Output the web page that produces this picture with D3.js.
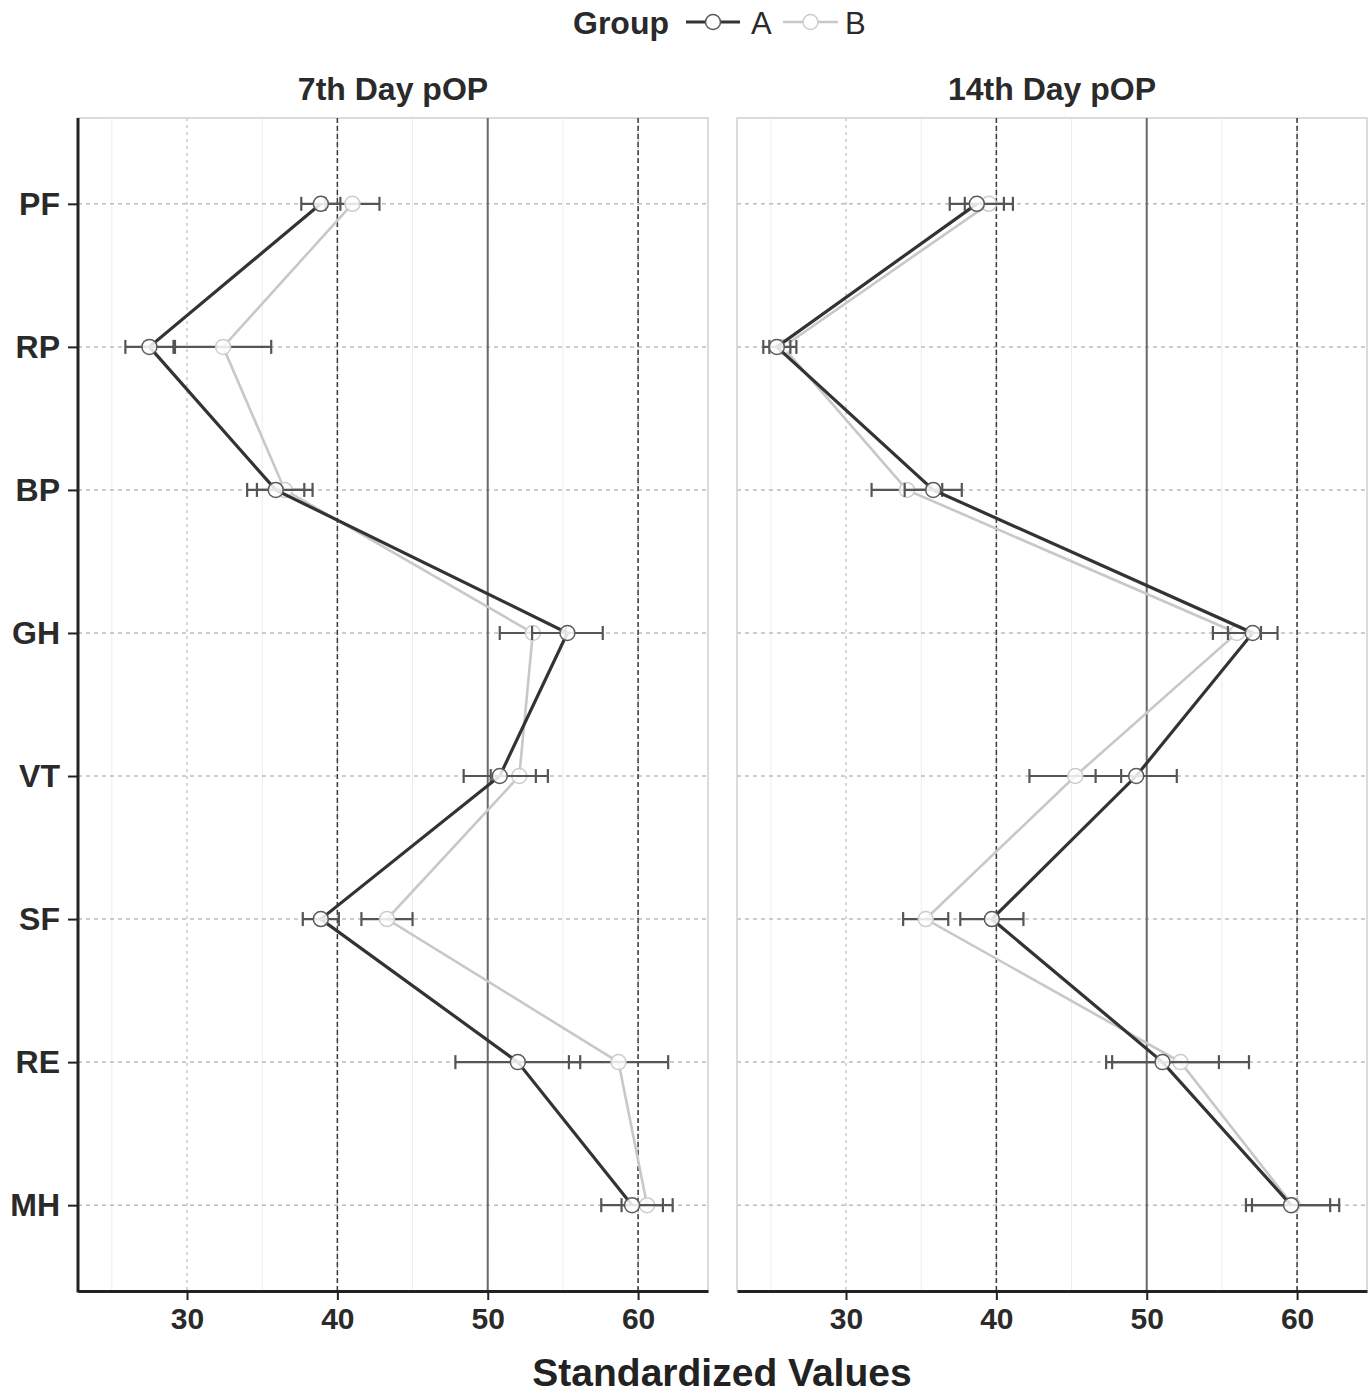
<!DOCTYPE html>
<html>
<head>
<meta charset="utf-8">
<script src="https://cdn.jsdelivr.net/npm/d3@7"></script>
<style>
  body { margin: 0; background: #fff; }
  svg text { font-family: "Liberation Sans", Arial, sans-serif; }
</style>
</head>
<body>
<div id="chart"></div>
<script>
// categories and panels
var categories = ["PF", "RP", "BP", "GH", "VT", "SF", "RE", "MH"];
var panels = ["7th Day pOP", "14th Day pOP"];
var groups = ["A", "B"];
var xTicks = [30, 40, 50, 60];
var minorTicks = [25, 35, 45, 55];

// 7th day means and error half widths
var day7A = [38.9, 27.5, 35.9, 55.3, 50.8, 38.9, 52.0, 59.6];
var day7AErr = [1.3, 1.6, 1.9, 2.35, 2.4, 1.2, 4.15, 2.05];
var day7B = [41.0, 32.4, 36.5, 53.0, 52.1, 43.3, 58.7, 60.6];
var day7BErr = [1.8, 3.2, 1.85, 2.2, 1.9, 1.7, 3.3, 1.7];

// 14th day
var day14A = [38.7, 25.4, 35.8, 57.05, 49.3, 39.7, 51.05, 59.6];
var day14AErr = [1.8, 0.9, 1.9, 1.65, 2.7, 2.1, 3.75, 2.6];
var day14B = [39.5, 25.8, 34.05, 56.0, 45.25, 35.3, 52.25, 59.7];
var day14BErr = [1.6, 0.9, 2.35, 1.6, 3.05, 1.5, 4.55, 3.1];

var chart = {}
chart.width = 1372;
chart.height = 1397;
chart.top = 118;
chart.bottom = 1291;
chart.panelLeft = [78, 737];
chart.panelWidth = 630;
chart.style = {
  A: {line: "#333333", lineWidth: 3.2, point: "#5a5a5a"},
  B: {line: "#c8c8c8", lineWidth: 2.6, point: "#cccccc"},
};

var panelData = [
  {A: day7A, AErr: day7AErr, B: day7B, BErr: day7BErr},
  {A: day14A, AErr: day14AErr, B: day14B, BErr: day14BErr},
];

var svg = d3.select("#chart")
  .append("svg")
  .attr("width", chart.width)
  .attr("height", chart.height);

var x = d3.scaleLinear().domain([22.75, 64.65]).range([0, chart.panelWidth]);
var y = d3.scalePoint().domain(categories).range([chart.top, chart.bottom]).padding(0.6);

panels.forEach((title, p) => {
  var g = svg.append("g")
    .attr("transform", "translate(" + chart.panelLeft[p] + ",0)");

  // minor grid
  g.selectAll(".minor")
    .data(minorTicks)
    .enter()
    .append("line")
    .attr("x1", d => x(d)).attr("x2", d => x(d))
    .attr("y1", chart.top).attr("y2", chart.bottom)
    .attr("stroke", "#ededed")
    .attr("stroke-width", 1);

  // major grid
  g.selectAll(".major")
    .data(xTicks)
    .enter()
    .append("line")
    .attr("x1", d => x(d)).attr("x2", d => x(d))
    .attr("y1", chart.top).attr("y2", chart.bottom)
    .attr("stroke", "#bdbdbd")
    .attr("stroke-width", 1.2)
    .attr("stroke-dasharray", "3,4");

  g.selectAll(".hgrid")
    .data(categories)
    .enter()
    .append("line")
    .attr("x1", 0).attr("x2", chart.panelWidth)
    .attr("y1", d => y(d)).attr("y2", d => y(d))
    .attr("stroke", "#bdbdbd")
    .attr("stroke-width", 1.5)
    .attr("stroke-dasharray", "4,4");

  // panel border
  g.append("rect")
    .attr("x", 0).attr("y", chart.top)
    .attr("width", chart.panelWidth).attr("height", chart.bottom - chart.top)
    .attr("fill", "none")
    .attr("stroke", "#cfcfcf")
    .attr("stroke-width", 1.5);

  // reference lines
  [40, 60].forEach(v => {
    g.append("line")
      .attr("x1", x(v)).attr("x2", x(v))
      .attr("y1", chart.top).attr("y2", chart.bottom)
      .attr("stroke", "#3a3a3a")
      .attr("stroke-width", 1.5)
      .attr("stroke-dasharray", "5,3");
  });
  g.append("line")
    .attr("x1", x(50)).attr("x2", x(50))
    .attr("y1", chart.top).attr("y2", chart.bottom)
    .attr("stroke", "#6a6a6a")
    .attr("stroke-width", 2);

  // series, B underneath A
  ["B", "A"].forEach(grp => {
    var vals = panelData[p][grp];
    var errs = panelData[p][grp + "Err"];
    var pts = categories.map((c, i) => ({cat: c, v: vals[i], e: errs[i]}));
    var st = chart.style[grp];

    g.append("path")
      .datum(pts)
      .attr("d", d3.line().x(d => x(d.v)).y(d => y(d.cat)))
      .attr("fill", "none")
      .attr("stroke", st.line)
      .attr("stroke-width", st.lineWidth)
      .attr("stroke-linejoin", "miter");

    var eb = g.append("g");
    eb.selectAll(".bar")
      .data(pts)
      .enter()
      .append("line")
      .attr("x1", d => x(d.v - d.e)).attr("x2", d => x(d.v + d.e))
      .attr("y1", d => y(d.cat)).attr("y2", d => y(d.cat))
      .attr("stroke", "#555")
      .attr("stroke-width", 2.2);
    pts.forEach(d => {
      [d.v - d.e, d.v + d.e].forEach(end => {
        eb.append("line")
          .attr("x1", x(end)).attr("x2", x(end))
          .attr("y1", y(d.cat) - 7).attr("y2", y(d.cat) + 7)
          .attr("stroke", "#555")
          .attr("stroke-width", 2.2);
      });
    });

    g.selectAll(".pt" + grp)
      .data(pts)
      .enter()
      .append("circle")
      .attr("cx", d => x(d.v))
      .attr("cy", d => y(d.cat))
      .attr("r", 7.5)
      .attr("fill", "#fff")
      .attr("fill-opacity", 0.85)
      .attr("stroke", st.point)
      .attr("stroke-width", 1.5);
  });

  // x axis
  var xAxis = g.append("g")
    .attr("transform", "translate(0," + chart.bottom + ")")
    .call(d3.axisBottom(x).tickValues(xTicks).tickSize(9).tickSizeOuter(0).tickPadding(8));
  xAxis.select(".domain").attr("stroke", "#222").attr("stroke-width", 3);
  xAxis.selectAll(".tick line").attr("stroke", "#222").attr("stroke-width", 2);
  xAxis.selectAll("text")
    .attr("font-size", 30)
    .attr("font-weight", "bold")
    .attr("fill", "#2a2a2a")
    .attr("font-family", "'Liberation Sans', Arial, sans-serif");

  // facet title
  g.append("text")
    .attr("x", chart.panelWidth / 2)
    .attr("y", 100)
    .attr("text-anchor", "middle")
    .attr("font-size", 32)
    .attr("font-weight", "bold")
    .attr("fill", "#2a2a2a")
    .text(title);
});

// y axis on the left panel
var yAxis = svg.append("g")
  .attr("transform", "translate(" + chart.panelLeft[0] + ",0)")
  .call(d3.axisLeft(y).tickSize(10).tickPadding(8));
yAxis.select(".domain").remove();
yAxis.append("line")
  .attr("x1", 0).attr("x2", 0)
  .attr("y1", chart.top).attr("y2", chart.bottom + 1.5)
  .attr("stroke", "#222")
  .attr("stroke-width", 3);
yAxis.selectAll(".tick line").attr("stroke", "#222").attr("stroke-width", 2);
yAxis.selectAll("text")
  .attr("font-size", 32)
  .attr("font-weight", "bold")
  .attr("fill", "#2a2a2a")
  .attr("font-family", "'Liberation Sans', Arial, sans-serif");

// axis title
svg.append("text")
  .attr("x", 722)
  .attr("y", 1386)
  .attr("text-anchor", "middle")
  .attr("font-size", 39)
  .attr("font-weight", "bold")
  .attr("fill", "#222")
  .text("Standardized Values");

// legend
var legend = svg.append("g");
legend.append("text")
  .attr("x", 573).attr("y", 34)
  .attr("font-size", 32)
  .attr("font-weight", "bold")
  .attr("fill", "#2a2a2a")
  .text("Group");
var keys = [{grp: "A", x0: 686, x1: 740, tx: 751}, {grp: "B", x0: 783, x1: 838, tx: 845}];
keys.forEach(k => {
  var st = chart.style[k.grp];
  legend.append("line")
    .attr("x1", k.x0).attr("x2", k.x1)
    .attr("y1", 22).attr("y2", 22)
    .attr("stroke", st.line)
    .attr("stroke-width", st.lineWidth);
  legend.append("circle")
    .attr("cx", (k.x0 + k.x1) / 2).attr("cy", 22)
    .attr("r", 7.5)
    .attr("fill", "#fff")
    .attr("stroke", st.point)
    .attr("stroke-width", 1.5);
  legend.append("text")
    .attr("x", k.tx).attr("y", 34)
    .attr("font-size", 31)
    .attr("fill", "#2a2a2a")
    .text(k.grp);
});
</script>
</body>
</html>
